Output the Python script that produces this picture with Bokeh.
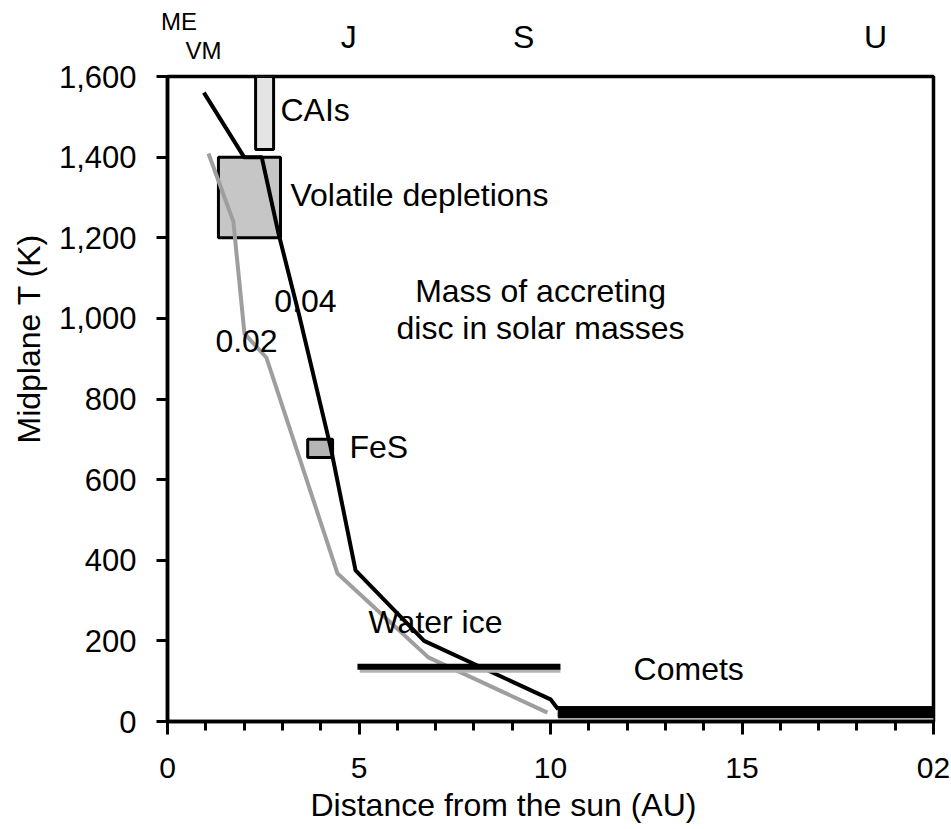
from bokeh.plotting import figure
from bokeh.models import (SingleIntervalTicker, NumeralTickFormatter, FixedTicker,
                          LinearAxis, ColumnDataSource, Range1d, Title)
from bokeh.core.properties import value
from bokeh.embed import file_html
from bokeh.resources import INLINE

FONT = "Liberation Sans"

# ---- data ----
# midplane temperature profiles for two disc masses (AU, K)
disc_004_au = [0.95, 2.0, 2.46, 2.9, 3.43, 4.26, 4.91, 6.7, 10.0, 10.2]
disc_004_T = [1560, 1400, 1400, 1210, 1011, 680, 375, 200, 55, 30]
disc_002_au = [1.07, 1.72, 2.01, 2.58, 4.44, 6.81, 9.92]
disc_002_T = [1409, 1240, 962, 903, 367, 159, 22]

# boxes: left AU, right AU, bottom K, top K, fill
box_names = ["CAIs", "Volatile depletions", "FeS"]
box_left = [2.30, 1.33, 3.66]
box_right = [2.77, 2.95, 4.31]
box_bottom = [1419, 1200, 655]
box_top = [1600, 1400, 700]
box_fill = ["#e4e4e4", "#c6c6c6", "#b5b5b5"]

# comets horizontal range
comet_au = [4.96, 10.26]
comet_T = [136, 136]
# thick low-temperature band beyond 10 AU
band_left, band_right, band_bottom, band_top = 10.2, 20.0, 10, 37

# annotations (left aligned)
ann_text = ["CAIs", "Volatile depletions", "0.04", "0.02", "FeS", "Water ice", "Comets"]
ann_x = [2.95, 3.21, 2.79, 1.25, 4.75, 5.25, 12.17]
ann_y = [1518, 1307, 1042, 943, 682, 248, 131]
# centred annotation
note_text = ["Mass of accreting", "disc in solar masses"]
note_x = [9.74, 9.74]
note_y = [1067, 977]

# planet labels above the frame (distance in AU)
inner_labels, inner_pos = ["VM"], [0.94]
giant_labels, giant_pos = ["J", "S", "U"], [4.73, 9.30, 18.49]
outer_labels, outer_pos = ["ME"], [0.30]

x_tick_overrides = {20: "02"}
x_title = "Distance from the sun (AU)"
y_title = "Midplane T (K)"

# ---- figure ----
p = figure(width=951, height=829, output_backend="svg", toolbar_location=None,
           title_location=None,
           x_range=Range1d(0, 20), y_range=Range1d(0, 1600),
           min_border_left=167, min_border_right=18,
           min_border_top=76, min_border_bottom=108)
p.background_fill_color = "white"
p.border_fill_color = "white"
p.outline_line_color = "black"
p.outline_line_width = 3.5
p.xgrid.visible = False
p.ygrid.visible = False

for ax in (p.xaxis[0], p.yaxis[0]):
    ax.axis_line_width = 3.5
    ax.axis_line_color = "black"
    ax.major_tick_line_width = 3
    ax.minor_tick_line_width = 3
    ax.major_tick_in = 0
    ax.minor_tick_in = 0
    ax.major_label_text_font = FONT
    ax.major_label_text_color = "black"

p.xaxis.ticker = SingleIntervalTicker(interval=5, num_minor_ticks=5)
p.xaxis.major_tick_out = 13
p.xaxis.minor_tick_out = 9
p.xaxis.major_label_text_font_size = "30px"
p.xaxis.major_label_standoff = 23
p.xaxis.major_label_overrides = x_tick_overrides

p.yaxis.ticker = SingleIntervalTicker(interval=200, num_minor_ticks=0)
p.yaxis.formatter = NumeralTickFormatter(format="0,0")
p.yaxis.major_tick_out = 11
p.yaxis.minor_tick_line_color = None
p.yaxis.major_label_text_font_size = "31px"
p.yaxis.major_label_standoff = 20

# axis titles placed like the reference
p.add_layout(Title(text=x_title, align="left", offset=143,
                   vertical_align="bottom", standoff=9,
                   text_font=FONT, text_font_size="32px",
                   text_font_style="normal", text_color="black"), "below")
p.add_layout(Title(text=y_title, align="left", offset=278,
                   vertical_align="middle", standoff=16,
                   text_font=FONT, text_font_size="32px",
                   text_font_style="normal", text_color="black"), "left")


def label_axis(ticks, labels, size, standoff):
    ax = LinearAxis(ticker=FixedTicker(ticks=ticks),
                    major_label_overrides=dict(zip(ticks, labels)),
                    axis_line_color=None, major_tick_line_color=None,
                    minor_tick_line_color=None,
                    major_tick_out=0, major_tick_in=0,
                    minor_tick_out=0, minor_tick_in=0,
                    major_label_standoff=standoff,
                    major_label_text_font=FONT,
                    major_label_text_font_size=size,
                    major_label_text_color="black")
    p.add_layout(ax, "above")


label_axis(inner_pos, inner_labels, "24px", 13)
label_axis(giant_pos, giant_labels, "32px", -21)
label_axis(outer_pos, outer_labels, "24px", -19)

# boxes
p.quad(left=box_left, right=box_right, bottom=box_bottom, top=box_top,
       fill_color=box_fill, line_color="black", line_width=3)

# temperature profiles
p.line(disc_002_au, disc_002_T, line_color="#9e9e9e", line_width=4, line_join="round")
p.line(disc_004_au, disc_004_T, line_color="black", line_width=4, line_join="round")

# comets bar + shadow
p.line([comet_au[0] + 0.06, comet_au[1]], [comet_T[0] - 10, comet_T[1] - 10],
       line_color="#b4b4b4", line_width=4)
p.line(comet_au, comet_T, line_color="black", line_width=6)

# thick band beyond 10 AU
p.line([band_left, band_right], [band_bottom - 4, band_bottom - 4],
       line_color="#aaaaaa", line_width=2)
p.quad(left=[band_left], right=[band_right], bottom=[band_bottom], top=[band_top],
       fill_color="black", line_color="black", line_width=1)

# annotations
src = ColumnDataSource(dict(x=ann_x, y=ann_y, t=ann_text))
p.text(x="x", y="y", text="t", source=src, text_font=value(FONT),
       text_font_size="32px", text_align="left", text_baseline="alphabetic",
       text_color="black")
src2 = ColumnDataSource(dict(x=note_x, y=note_y, t=note_text))
p.text(x="x", y="y", text="t", source=src2, text_font=value(FONT),
       text_font_size="32px", text_align="center", text_baseline="alphabetic",
       text_color="black")

open("out.html", "w").write(file_html(p, INLINE))
